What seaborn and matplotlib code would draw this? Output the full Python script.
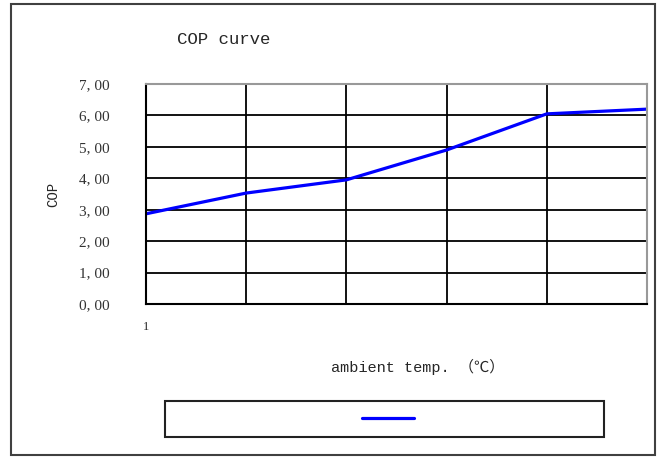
import pandas as pd
import seaborn as sns
import matplotlib.pyplot as plt
from matplotlib.patches import Rectangle

# values
points = [1, 2, 3, 4, 5, 6]
cop = [2.87, 3.53, 3.95, 4.90, 6.05, 6.20]
x_tick_labels = ['1', '', '', '', '', '']
y_ticks = [0, 1, 2, 3, 4, 5, 6, 7]
y_tick_labels = ['0, 00', '1, 00', '2, 00', '3, 00', '4, 00', '5, 00', '6, 00', '7, 00']

df = pd.DataFrame({'point': points, 'COP': cop})

sns.set_style('white')
plt.rcParams['font.family'] = ['Liberation Mono', 'DejaVu Sans Mono', 'Noto Sans CJK SC', 'DejaVu Sans']

fig = plt.figure(figsize=(6.58, 4.59), dpi=100)
ax = fig.add_axes([146 / 658, 1 - 304 / 459, 501 / 658, 220 / 459])

sns.lineplot(data=df, x='point', y='COP', color='#0000ff', linewidth=2.3, ax=ax)

ax.set_xlim(1, 6)
ax.set_ylim(0, 7)
ax.set_xticks(points)
ax.set_xticklabels(x_tick_labels, fontsize=9, family=['Liberation Serif', 'DejaVu Serif'])
ax.set_yticks(y_ticks)
ax.set_yticklabels(y_tick_labels, fontsize=11, color='#333333', family=['Liberation Serif', 'DejaVu Serif'])
ax.tick_params(axis='y', length=0, pad=26)
ax.tick_params(axis='x', length=0, pad=12)
ax.grid(True, color='black', linewidth=1.3)
ax.set_axisbelow(True)
for side in ['left', 'bottom']:
    ax.spines[side].set_color('black')
    ax.spines[side].set_linewidth(1.5)
for side in ['top', 'right']:
    ax.spines[side].set_color('#999999')
    ax.spines[side].set_linewidth(1.5)

ax.set_ylabel('COP', fontsize=10)
ax.yaxis.set_label_coords(-0.172, 0.5)
ax.set_xlabel('ambient temp. （℃）', fontsize=11,
              family=['Liberation Mono', 'Noto Sans CJK SC', 'DejaVu Sans'])
ax.xaxis.set_label_coords(0.543, -0.248)

fig.text(224 / 658, 1 - 40 / 459, 'COP curve', fontsize=12.5, ha='center', va='center')

# outer chart frame and legend box
fig.patches.append(Rectangle((11 / 658, 1 - 455 / 459), 644 / 658, 451 / 459,
                             transform=fig.transFigure, fill=False,
                             edgecolor='#404040', linewidth=1.5))
fig.patches.append(Rectangle((165 / 658, 1 - 437 / 459), 439 / 658, 36 / 459,
                             transform=fig.transFigure, fill=False,
                             edgecolor='#222222', linewidth=1.5))
line = ax.get_lines()[0]
fig.legend([line], [''], loc='center', bbox_to_anchor=(388 / 658, 1 - 419 / 459),
           frameon=False, handlelength=3.8, handletextpad=0, fontsize=10)

fig.savefig('out.png', dpi=100)
